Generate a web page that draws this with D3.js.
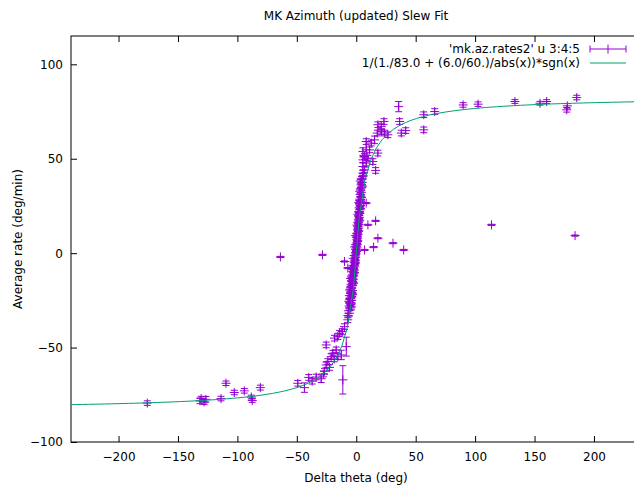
<!DOCTYPE html>
<html>
<head>
  <meta charset="utf-8">
  <title>MK Azimuth Slew Fit</title>
  <script src="https://d3js.org/d3.v7.min.js"></script>
  <style>
    body { margin: 0; background: #fff; }
    text { font-family: "DejaVu Sans", sans-serif; font-size: 12px; fill: #000; }
  </style>
</head>
<body>
  <div id="chart-container"></div>
  <script>

// delta theta (deg)
var dtheta = [
  -175.8, -131.5, -130.5, -128.0, -126.5, -113.8, -109.6, -102.6, -94.2, -88.3, -87.5, -80.7,
  -49.2, -43.6, -40.0, -37.1, -33.7, -29.5, -27.6, -26.7, -25.3, -23.9, -22.5, -21.1, -19.7,
  -18.5, -16.9, -15.5, -12.6, -11.3, -25.3, -18.3, -15.5, -14.0, -11.8, -9.9, -8.4, -7.1, -5.7,
  -4.2, -3.4,
  -6.5, -5.0, -6.0, -4.5, -5.5, -3.8, -5.2, -4.0, -5.8, -3.5, -4.6, -3.2, -5.0, -4.1, -3.0,
  -4.4, -2.8, -3.9, -2.5, -3.6, -2.2, -3.3, -1.8, -2.9, -1.6, -2.5, -1.2, -2.0, -0.9, -1.7,
  -0.6, -1.3, -0.4, -1.0, -0.2, -0.7, 0.2, -0.3, 0.5, 0.0, 0.8, 0.3, 1.1, 0.5, 1.3, 0.7, 1.6,
  0.9, 1.8, 1.1, 2.0, 1.3, 2.2, 1.5, 2.5, 1.7, 2.7, 2.0, 3.0, 2.2, 3.3, 2.4, 3.5, 2.8, 3.8,
  3.0, 4.0, 3.3, 4.3, 3.6, 4.6, 4.0, 5.0,
  -7.0, -4.0, -6.3, -3.0, -5.6, -2.4, -4.8, -1.5, -3.7, -0.8, -2.6, 0.4, -1.4, 1.2, -0.5, 2.0,
  0.6, 2.9, 1.4, 3.6, 2.1, 4.4, 2.9, 5.2, 3.4, 5.8,
  4.5, 5.5, 5.6, 7.0, 5.6, 8.4, 5.6, 9.8, 7.0, 5.6, 8.4, 11.2, 18.2, 8.4, 12.6, 15.4, 14.0,
  16.3, 17.7, 21.1, 23.9, 26.6, 18.2, 21.1, 23.3, 35.7, 36.5, 37.9, 41.6, 56.8, 66.0, 56.8,
  89.9, 102.5, 133.5, 154.6, 160.2, 177.6, 177.1, 185.5,
  -63.8, -28.4, -9.9, -7.1, 8.4, 9.8, 16.3, 18.2, 14.6, 30.9, 39.9, 113.8, 184.1, 7.0, 6.4
];

// average rate (deg/min)
var rate = [
  -79.4, -78.2, -77.0, -78.8, -77.4, -77.0, -68.9, -73.8, -72.9, -76.2, -78.0, -71.2,
  -68.9, -71.2, -65.8, -67.8, -65.6, -66.5, -64.0, -62.5, -59.2, -57.4, -60.5, -54.8, -53.0,
  -56.0, -51.2, -54.8, -53.9, -67.1, -48.6, -45.0, -44.2, -42.4, -41.5, -38.9, -49.5, -35.3, -31.8,
  -26.5, -21.2,
  -30.5, -29.0, -28.0, -27.2, -26.0, -25.0, -24.0, -23.1, -22.5, -21.6, -20.5, -19.8, -19.0, -18.0, -17.2,
  -16.5, -15.5, -14.8, -13.9, -13.0, -12.1, -11.5, -10.6, -9.8, -9.0, -8.1, -7.3, -6.5, -5.6, -4.8,
  -4.0, -3.1, -2.2, -1.4, -0.5, 0.3, 1.1, 2.0, 2.8, 3.7, 4.5, 5.4, 6.2, 7.1, 8.0, 8.9, 9.8,
  10.7, 11.5, 12.4, 13.3, 14.2, 15.1, 16.0, 17.0, 18.0, 19.0, 20.0, 21.0, 22.0, 23.0, 24.0, 25.2, 26.3, 27.5,
  28.6, 29.8, 31.0, 32.2, 33.5, 34.8, 36.2, 37.5,
  -33.0, -28.5, -25.5, -22.0, -19.5, -16.0, -13.4, -10.2, -7.7, -5.0, -2.7, 0.8, 3.3, 6.6, 9.3, 11.9,
  14.8, 17.5, 20.6, 23.6, 26.9, 29.5, 32.8, 35.5, 38.2, 41.0,
  39.0, 40.5, 42.4, 44.1, 45.9, 47.7, 49.4, 50.3, 51.2, 53.8, 54.7, 54.7, 53.0, 59.1, 58.3, 60.0, 48.5,
  43.8, 63.6, 64.4, 63.6, 62.7, 68.0, 67.0, 69.7, 77.6, 69.7, 63.6, 64.9, 73.3, 75.0, 65.3,
  78.5, 78.9, 80.3, 79.4, 80.3, 78.0, 75.9, 82.4,
  -2.0, -0.9, -4.4, -7.9, 26.5, 15.0, 17.1, 7.9, 3.2, 5.3, 1.7, 15.0, 9.3, 1.7, 26.5
];

// error on rate
var rateErr = [
  1.2, 1.5, 1.2, 1.3, 1.5, 1.2, 1.2, 1.2, 1.2, 1.0, 1.0, 1.3,
  1.5, 2.5, 1.5, 1.5, 1.5, 2.0, 1.5, 1.5, 1.5, 1.5, 1.5, 1.5, 1.5,
  1.5, 1.5, 1.5, 2.5, 7.5, 1.5, 1.5, 1.5, 1.5, 1.5, 1.5, 5.0, 1.5, 1.5,
  1.5, 1.5,
  1.5, 1.2, 1.5, 1.0, 1.5, 1.2, 1.5, 1.0, 1.2, 1.5, 1.0, 1.2, 1.5, 1.0, 1.2,
  1.5, 1.0, 1.2, 1.5, 1.0, 1.2, 1.5, 1.0, 1.2, 1.5, 1.0, 1.2, 1.5, 1.0, 1.2,
  1.5, 1.0, 1.2, 1.5, 1.0, 1.2, 1.5, 1.0, 1.2, 1.5, 1.0, 1.2, 1.5, 1.0, 1.2, 1.5, 1.0,
  1.2, 1.5, 1.0, 1.2, 1.5, 1.0, 1.2, 1.5, 1.0, 1.2, 1.5, 1.0, 1.2, 1.5, 1.0, 1.2, 1.5, 1.0,
  1.2, 1.5, 1.0, 1.2, 1.5, 1.5, 1.5, 1.5,
  1.2, 1.5, 1.0, 1.2, 1.5, 1.0, 1.2, 1.5, 1.0, 1.2, 1.5, 1.0, 1.2, 1.5, 1.0, 1.2,
  1.5, 1.0, 1.2, 1.5, 1.0, 1.2, 1.5, 1.0, 1.2, 1.5,
  1.5, 1.5, 1.5, 1.5, 2.0, 1.5, 1.5, 1.5, 1.5, 2.0, 4.4, 1.5, 1.5, 1.5, 1.5, 2.0, 1.5,
  1.5, 1.5, 1.5, 1.5, 1.5, 1.5, 1.5, 1.5, 2.7, 1.5, 1.5, 1.5, 1.5, 1.5, 1.5,
  1.2, 1.2, 1.0, 1.0, 1.0, 1.2, 1.2, 1.2,
  0.3, 0.3, 0.3, 0.3, 0.3, 0.3, 0.3, 0.3, 0.3, 0.3, 0.3, 0.3, 0.3, 0.3, 0.3
];

var xTicks = [-200, -150, -100, -50, 0, 50, 100, 150, 200];
var yTicks = [-100, -50, 0, 50, 100];
var xRange = [-240, 240];
var yRange = [-100, 115];

// fit parameters from the legend
var vmax = 83.0, accel = 6.0 / 60.;

function fit(d) {
  return 1 / (1 / vmax + accel / Math.abs(d)) * Math.sign(d);
}

var W = 634, H = 489;
var pLeft = 71, pRight = 641.5, pTop = 36, pBottom = 442;
var purple = "#9400d3", green = "#009e73";

var svg = d3.select("#chart-container")
  .append("svg")
  .attr("width", W)
  .attr("height", H);

var x = d3.scaleLinear().domain(xRange).range([pLeft, pRight]);
var y = d3.scaleLinear().domain(yRange).range([pBottom, pTop]);

svg.append("defs").append("clipPath").attr("id", "plot")
  .append("rect")
  .attr("x", pLeft).attr("y", pTop)
  .attr("width", pRight - pLeft).attr("height", pBottom - pTop);

// title
svg.append("text")
  .attr("x", 356).attr("y", 20)
  .attr("text-anchor", "middle")
  .text("MK Azimuth (updated) Slew Fit");

// axes, ticks point inward and are mirrored
svg.append("g")
  .attr("transform", "translate(0," + pBottom + ")")
  .call(d3.axisBottom(x).tickValues(xTicks).tickSizeInner(-6).tickSizeOuter(0).tickPadding(10));
svg.append("g")
  .attr("transform", "translate(0," + pTop + ")")
  .call(d3.axisTop(x).tickValues(xTicks).tickSizeInner(-6).tickSizeOuter(0).tickFormat(""));
svg.append("g")
  .attr("transform", "translate(" + pLeft + ",0)")
  .call(d3.axisLeft(y).tickValues(yTicks).tickSizeInner(-6).tickSizeOuter(0).tickPadding(8));
svg.append("g")
  .attr("transform", "translate(" + pRight + ",0)")
  .call(d3.axisRight(y).tickValues(yTicks).tickSizeInner(-6).tickSizeOuter(0).tickFormat(""));

svg.selectAll(".domain").remove();
svg.selectAll(".tick line").attr("stroke", "#000");
svg.selectAll(".tick text")
  .style("font-family", "DejaVu Sans, sans-serif")
  .style("font-size", "12px")
  .attr("fill", "#000");

svg.append("rect")
  .attr("x", pLeft).attr("y", pTop)
  .attr("width", pRight - pLeft).attr("height", pBottom - pTop)
  .attr("fill", "none").attr("stroke", "#000").attr("stroke-width", 1);

// axis labels
svg.append("text")
  .attr("x", 356).attr("y", 482)
  .attr("text-anchor", "middle")
  .text("Delta theta (deg)");

svg.append("text")
  .attr("transform", "translate(22," + ((pTop + pBottom) / 2) + ") rotate(-90)")
  .attr("text-anchor", "middle")
  .text("Average rate (deg/min)");

var plot = svg.append("g").attr("clip-path", "url(#plot)");

// data with y error bars
var pts = dtheta.map(function (d, i) { return { x: d, y: rate[i], e: rateErr[i] }; });

var marks = plot.selectAll(".pt")
  .data(pts)
  .enter().append("g")
  .attr("class", "pt")
  .attr("stroke", purple)
  .attr("stroke-width", 1)
  .attr("fill", "none");

marks.append("path")
  .attr("d", function (d) {
    var px = x(d.x), py = y(d.y), y0 = y(d.y - d.e), y1 = y(d.y + d.e);
    return "M" + px + "," + y0 + "V" + y1 +
      "M" + (px - 3.5) + "," + y0 + "H" + (px + 3.5) +
      "M" + (px - 3.5) + "," + y1 + "H" + (px + 3.5) +
      "M" + (px - 4.5) + "," + py + "H" + (px + 4.5) +
      "M" + px + "," + (py - 4.5) + "V" + (py + 4.5);
  });

// fitted curve, 100 samples like gnuplot
var samples = d3.range(100).map(function (i) {
  return xRange[0] + i * (xRange[1] - xRange[0]) / 99;
});

plot.append("path")
  .datum(samples)
  .attr("fill", "none")
  .attr("stroke", green)
  .attr("stroke-width", 1)
  .attr("d", d3.line().x(function (d) { return x(d); }).y(function (d) { return y(fit(d)); }));

// legend
var lx0 = 590, lx1 = 626, lt = 580;
svg.append("text").attr("x", lt).attr("y", 53).attr("text-anchor", "end")
  .text("'mk.az.rates2' u 3:4:5");
svg.append("text").attr("x", lt).attr("y", 67).attr("text-anchor", "end")
  .text("1/(1./83.0 + (6.0/60.)/abs(x))*sgn(x)");

svg.append("path")
  .attr("stroke", purple).attr("fill", "none")
  .attr("d", "M" + lx0 + ",49H" + lx1 +
    "M" + lx0 + ",45.5V52.5M" + lx1 + ",45.5V52.5" +
    "M" + ((lx0 + lx1) / 2) + ",44.5V53.5");
svg.append("line")
  .attr("x1", lx0).attr("x2", lx1).attr("y1", 63).attr("y2", 63)
  .attr("stroke", green);

</script>
</body>
</html>
